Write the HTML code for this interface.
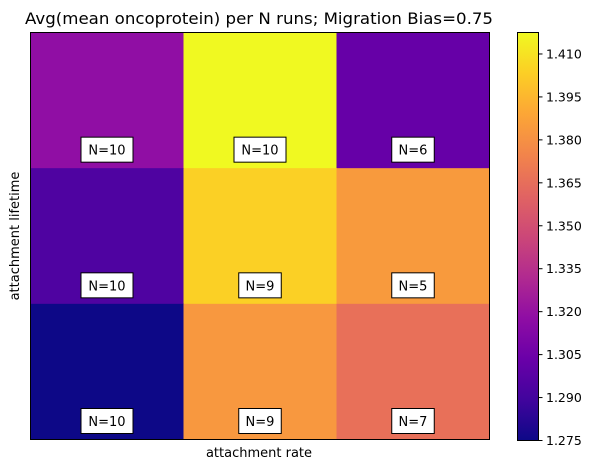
<!DOCTYPE html>
<html><head><meta charset="utf-8"><style>
body{margin:0;background:#fff;font-family:"Liberation Sans","DejaVu Sans",sans-serif}
svg text{font-family:"DejaVu Sans","Liberation Sans",sans-serif}
</style></head><body>
<svg id="c" width="597" height="470" viewBox="0 0 597 470" xmlns="http://www.w3.org/2000/svg">
<defs><linearGradient id="g" x1="0" y1="1" x2="0" y2="0">
<stop offset="0" stop-color="#0d0887"/><stop offset="0.1" stop-color="#41049d"/><stop offset="0.2" stop-color="#6a00a8"/><stop offset="0.3" stop-color="#8f0da4"/><stop offset="0.4" stop-color="#b12a90"/><stop offset="0.5" stop-color="#cc4778"/><stop offset="0.6" stop-color="#e16462"/><stop offset="0.7" stop-color="#f2844b"/><stop offset="0.8" stop-color="#fca636"/><stop offset="0.9" stop-color="#fcce25"/><stop offset="1" stop-color="#f0f921"/></linearGradient></defs>
<text x="25" y="24" font-size="16" textLength="468" lengthAdjust="spacingAndGlyphs" fill="#000">Avg(mean oncoprotein) per N runs; Migration Bias=0.75</text>
<g id="cells"></g>
<rect x="30.5" y="32.5" width="459" height="407" fill="none" stroke="#000" stroke-width="1"/>
<text x="259" y="457" font-size="13" text-anchor="middle">attachment rate</text>
<text transform="translate(19,236) rotate(-90)" font-size="13" text-anchor="middle">attachment lifetime</text>
<rect x="517.5" y="32.5" width="21" height="408" fill="url(#g)" stroke="#000"/>
<g id="cb"></g>
</svg>
<script>
const values=[[1.318,1.4175,1.302],[1.294,1.404,1.384],[1.275,1.383,1.366]];
const counts=[[10,10,6],[10,9,5],[10,9,7]];
const cbTicks=[1.275,1.290,1.305,1.320,1.335,1.350,1.365,1.380,1.395,1.410];
const vmin=1.275, vmax=1.4175;
const stops=["#0d0887","#41049d","#6a00a8","#8f0da4","#b12a90","#cc4778","#e16462","#f2844b","#fca636","#fcce25","#f0f921"];
function hex(h){return[1,3,5].map(i=>parseInt(h.substr(i,2),16));}
function cmap(v){let t=Math.max(0,Math.min(1,(v-vmin)/(vmax-vmin)))*10;let i=Math.min(9,Math.floor(t)),f=t-i;let a=hex(stops[i]),b=hex(stops[i+1]);return"rgb("+a.map((x,k)=>Math.round(x+(b[k]-x)*f)).join(",")+")";}
const X0=30.5,Y0=32.5,W=459,H=407;
const ns="http://www.w3.org/2000/svg";
const cells=document.getElementById('cells');
const nr=values.length,nc=values[0].length,cw=W/nc,ch=H/nr;
for(let r=0;r<nr;r++)for(let c=0;c<nc;c++){
 const x=X0+c*cw,y=Y0+r*ch;
 const rc=document.createElementNS(ns,'rect');
 rc.setAttribute('x',x);rc.setAttribute('y',y);rc.setAttribute('width',cw+0.5);rc.setAttribute('height',ch+0.5);rc.setAttribute('fill',cmap(values[r][c]));
 
 
 cells.appendChild(rc);
 const lab="N="+counts[r][c];
 const bw=lab.length*9.5+14;
 const cx=x+cw/2,cy=y+ch-18.5;
 const b=document.createElementNS(ns,'rect');
 b.setAttribute('x',cx-bw/2);b.setAttribute('y',cy-12.5);b.setAttribute('width',bw);b.setAttribute('height',25);b.setAttribute('fill','#fff');b.setAttribute('stroke','#000');
 
 
 cells.appendChild(b);
 const t=document.createElementNS(ns,'text');
 t.setAttribute('x',cx);t.setAttribute('y',cy+5);t.setAttribute('font-size','13');t.setAttribute('text-anchor','middle');t.textContent=lab;
 
 
 cells.appendChild(t);
}
const cb=document.getElementById('cb');
function cy(v){return 440.5-(v-vmin)/(vmax-vmin)*408;}
cbTicks.forEach(v=>{
 const y=cy(v);
 const l=document.createElementNS(ns,'line');
 l.setAttribute('x1',538.5);l.setAttribute('x2',542.5);l.setAttribute('y1',y);l.setAttribute('y2',y);l.setAttribute('stroke','#000');
 
 
 cb.appendChild(l);
 const t=document.createElementNS(ns,'text');
 t.setAttribute('x',546);t.setAttribute('y',y+4.5);t.setAttribute('font-size','12.5');t.textContent=v.toFixed(3);
 
 
 cb.appendChild(t);
});
</script>
</body></html>
